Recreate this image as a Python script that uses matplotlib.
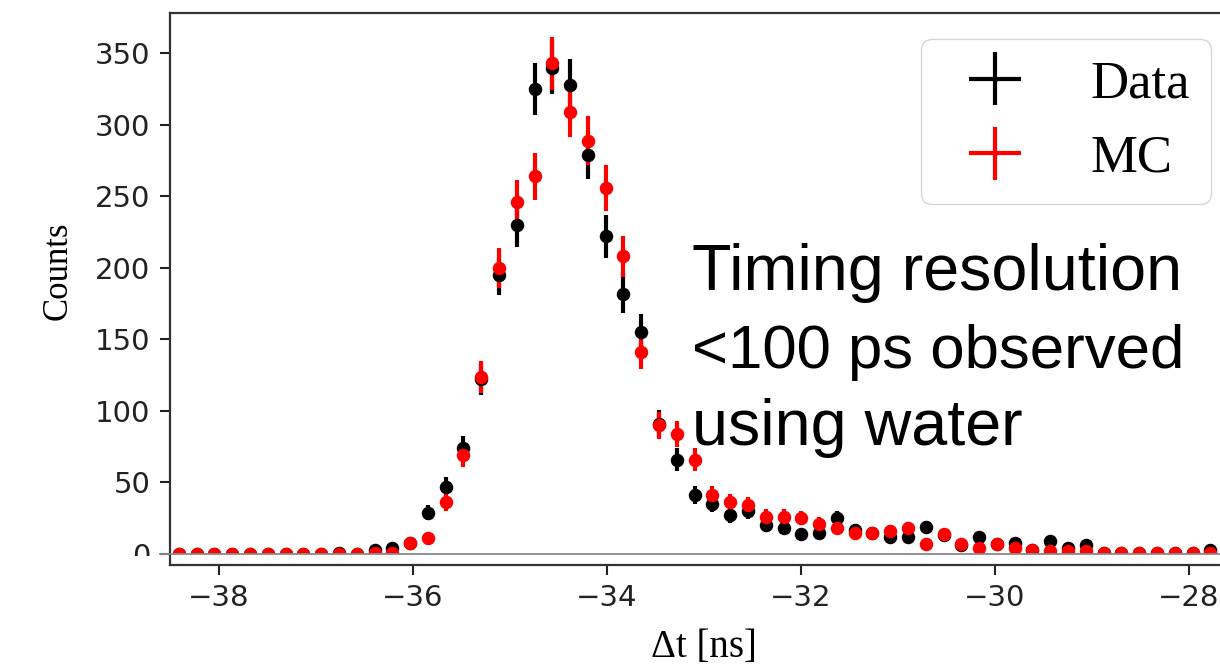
import numpy as np
import matplotlib
matplotlib.use("Agg")
import matplotlib.pyplot as plt
from matplotlib.patches import Rectangle
from matplotlib.lines import Line2D
from matplotlib import transforms

# Histogram binning of the time difference (ns)
bin_edges = np.linspace(-38.5, -27.5, 61)
bin_centers = 0.5 * (bin_edges[:-1] + bin_edges[1:])
half_width = 0.02

data_counts = [0, 0, 0, 0, 0, 0, 0, 0, 0, 1,
               0, 3, 4, 8, 29, 47, 74, 122, 195, 230,
               325, 340, 328, 279, 222, 182, 155, 91, 66, 41,
               35, 27, 30, 20, 18, 14, 15, 25, 17, 15,
               12, 12, 19, 13, 6, 12, 7, 8, 3, 9,
               4, 6, 1, 1, 1, 1, 1, 1, 3, 1]
mc_counts = [0, 0, 0, 0, 0, 0, 0, 0, 0, 0,
             0, 1, 1, 8, 11, 36, 69, 124, 200, 246,
             264, 343, 309, 289, 256, 208, 141, 90, 84, 66,
             41, 36, 34, 26, 26, 25, 21, 18, 15, 15,
             16, 18, 7, 14, 7, 4, 7, 4, 3, 2,
             2, 2, 1, 1, 1, 1, 1, 1, 1, 1]

x_ticks = [-38, -36, -34, -32, -30, -28]
y_ticks = [0, 50, 100, 150, 200, 250, 300, 350]

data_counts = np.array(data_counts, dtype=float)
mc_counts = np.array(mc_counts, dtype=float)

W, H = 1220, 666
fig = plt.figure(figsize=(W / 100, H / 100), dpi=100)
ax = fig.add_axes([170 / W, 1 - 565 / H, (1237 - 170) / W, (565 - 12.7) / H])

ebar_kw = dict(fmt="o", markersize=8.7, elinewidth=3.0, capsize=0, zorder=2.2)
ax.errorbar(bin_centers, data_counts, yerr=np.sqrt(data_counts), xerr=half_width,
            color="black", label="Data", **ebar_kw)
ax.errorbar(bin_centers, mc_counts, yerr=np.sqrt(mc_counts), xerr=half_width,
            color="red", label="MC", **ebar_kw)

ax.set_xlim(-38.5, -27.5)
ax.set_ylim(-7.7, 378.4)
ax.set_xticks(x_ticks)
ax.set_yticks(y_ticks)
ax.tick_params(axis="both", labelsize=21, length=7, width=1.5, pad=7,
               colors="#222222", labelcolor="#222222")
for sp in ax.spines.values():
    sp.set_linewidth(1.6)
    sp.set_color("#333333")

ax.set_xlabel("Δt [ns]", fontsize=28, family="Liberation Serif", labelpad=12)
ax.set_ylabel("Counts", fontsize=25, family="Liberation Serif")
ax.yaxis.set_label_coords((75 - 170) / 1067, (565 - 271) / 552.3)

# blank band below the zero line inside the plotting area
band = Rectangle((0, -7.7), 1, 7.7, transform=transforms.blended_transform_factory(ax.transAxes, ax.transData),
                 facecolor="white", edgecolor="none", zorder=2.4)
ax.add_patch(band)
zero_tr = transforms.blended_transform_factory(fig.transFigure, ax.transData)
fig.add_artist(Line2D([160 / W, 1.0], [0, 0], transform=zero_tr, color="#8a8a8a", lw=1.3, zorder=3))
fig.add_artist(Rectangle((0, 1 - 600 / H), 165 / W, (600 - 556) / H, transform=fig.transFigure,
                         facecolor="white", edgecolor="none", zorder=3))

leg = ax.legend(loc="upper right", prop={"family": "Liberation Serif", "size": 38},
                markerscale=0.35, borderaxespad=0.5)

note_lines = ["Timing resolution", "<100 ps observed", "using water"]
note_sizes = [46.5, 44.5, 46.5]
baselines = [290, 368, 445]
for txt, fs, yb in zip(note_lines, note_sizes, baselines):
    fig.text(692 / W, 1 - yb / H, txt, fontsize=fs, family="Liberation Sans",
             va="baseline", ha="left", color="black")

fig.savefig("out.png", dpi=100)
